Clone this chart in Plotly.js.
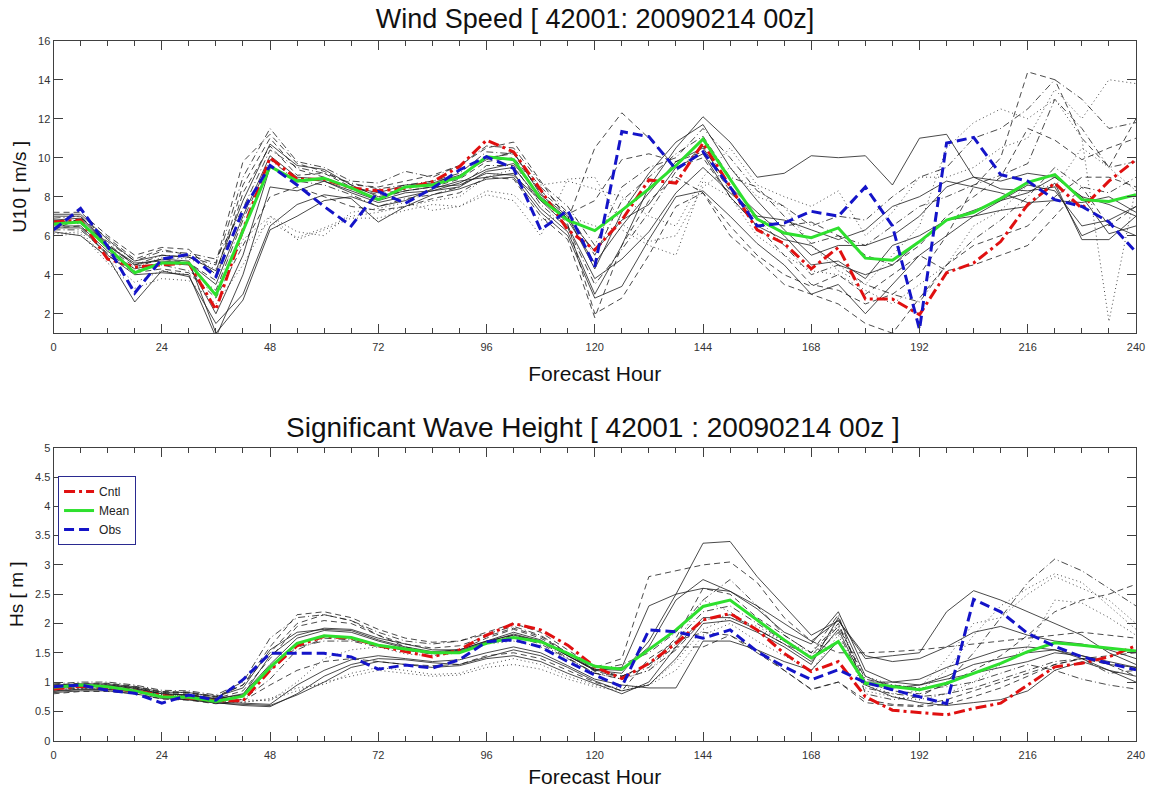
<!DOCTYPE html>
<html><head><meta charset="utf-8">
<script src="https://cdn.plot.ly/plotly-3.0.1.min.js"></script>
<style>html,body{margin:0;padding:0;background:#fff}#chart{width:1154px;height:793px}</style>
</head><body><div id="chart"></div>
<script>
const hours = [0,6,12,18,24,30,36,42,48,54,60,66,72,78,84,90,96,102,108,114,120,126,132,138,144,150,156,162,168,174,180,186,192,198,204,210,216,222,228,234,240];
const xTicks = [0,24,48,72,96,120,144,168,192,216,240];

// ---- Wind speed (U10, m/s) ----
const windCntl = [6.7,6.8,4.8,4.4,4.5,4.6,2.2,6.3,10.0,8.9,8.9,8.45,8.3,8.43,8.77,9.54,10.9,10.3,8.35,6.3,5.27,6.8,8.86,8.7,10.75,8.5,6.3,5.6,4.3,5.4,2.75,2.75,1.95,4.1,4.6,5.7,7.6,8.7,7.4,8.8,9.9];
const windMean = [6.6,6.7,5.4,4.1,4.6,4.6,2.95,6.3,9.55,8.8,8.95,8.45,7.85,8.5,8.6,9.0,10.05,9.9,7.9,6.8,6.26,7.3,8.4,9.6,10.95,8.9,6.85,6.14,5.9,6.4,4.85,4.74,5.7,6.8,7.2,7.9,8.74,9.13,7.85,7.76,8.1];
const windObs  = [6.3,7.4,5.45,3.06,4.8,5.05,3.9,7.3,9.6,8.6,7.5,6.5,8.27,7.66,8.43,9.37,10.05,9.45,6.3,7.3,4.41,11.34,11.08,9.4,10.3,8.5,6.5,6.65,7.25,7.0,8.5,6.5,1.2,10.75,11.04,9.13,8.8,7.85,7.5,6.7,5.15];
const windM01 = [7.0,7.0,5.5,4.5,4.8,4.7,1.0,2.7,6.3,7.0,7.8,8.0,7.5,7.8,8.4,8.8,9.0,9.2,7.4,6.2,3.0,5.5,8.5,10.5,12.1,10.8,9.0,9.2,10.1,10.0,10.1,8.6,11.0,11.2,9.0,8.4,8.3,8.5,6.0,6.6,6.0];
const windM02 = [6.3,6.9,5.9,4.8,5.3,5.0,4.6,9.8,11.2,9.7,9.3,8.6,8.5,8.8,9.1,9.6,10.5,10.8,8.8,6.8,10.5,12.3,11.0,9.5,10.0,8.0,6.5,5.0,3.5,3.2,2.5,3.0,4.0,6.0,8.5,10.0,14.4,14.0,11.0,9.5,12.0];
const windM03 = [6.1,6.2,4.8,3.6,4.2,4.0,3.0,5.8,7.0,5.8,6.3,6.9,6.9,7.3,7.6,7.5,8.1,7.8,6.0,8.9,9.0,6.6,5.7,6.0,8.5,9.5,8.0,7.5,5.5,4.2,3.5,5.0,6.5,10.5,11.8,12.5,12.0,13.0,11.0,1.6,8.5];
const windM04 = [6.8,6.6,5.7,4.7,5.2,5.1,4.8,7.4,10.4,9.5,9.2,8.7,8.4,8.6,8.8,9.2,10.3,10.2,8.5,7.2,5.0,7.8,9.0,10.2,11.1,9.0,8.5,7.0,5.6,6.0,5.5,6.5,7.5,8.0,8.6,9.1,9.7,13.0,11.5,9.5,9.8];
const windM05 = [6.4,6.4,5.0,4.0,4.1,4.0,0.8,4.0,8.5,8.3,8.8,8.2,7.7,8.0,8.3,8.5,9.3,9.5,7.8,6.8,4.6,6.5,8.2,9.8,10.5,8.5,7.2,6.0,4.5,4.7,3.8,5.5,6.0,6.8,7.3,7.8,8.6,8.3,6.5,6.8,7.5];
const windM06 = [7.2,7.2,6.0,5.0,5.4,5.3,4.0,8.6,11.0,9.4,9.0,8.4,7.9,8.3,8.5,8.9,9.8,10.0,8.3,7.1,7.8,9.9,10.2,9.8,10.3,8.3,6.8,6.5,6.7,6.0,5.0,4.5,5.5,7.0,8.0,9.0,11.5,10.9,9.9,10.5,11.0];
const windM07 = [6.2,6.0,4.9,2.6,4.2,3.9,1.5,3.0,6.5,7.6,8.1,7.9,6.7,7.5,8.1,8.4,8.9,9.0,7.2,6.0,2.8,3.4,5.8,8.0,8.3,7.0,5.6,4.5,3.0,3.5,2.0,3.5,5.0,6.0,7.0,7.8,8.2,9.0,8.0,6.1,6.5];
const windM08 = [6.6,6.7,5.3,4.3,4.9,4.8,4.3,5.5,6.7,5.9,6.4,7.0,7.2,7.5,7.8,8.0,9.0,9.4,8.6,8.8,8.4,8.0,7.0,6.5,9.0,10.5,8.6,8.0,7.5,8.3,6.0,7.2,9.0,9.0,9.5,10.5,11.0,13.5,12.0,14.0,13.8];
const windM09 = [6.9,7.0,5.6,4.5,5.0,4.9,4.5,9.0,11.5,9.8,9.5,8.8,8.7,9.3,9.0,9.6,10.6,10.5,8.7,7.5,5.5,8.5,9.5,10.0,11.5,10.0,8.3,7.5,6.5,7.0,6.8,8.0,9.0,9.5,11.0,11.5,12.5,14.0,13.0,11.5,11.8];
const windM10 = [6.5,6.5,5.2,4.3,4.6,4.5,2.0,5.0,9.5,8.9,8.8,8.3,7.8,8.2,8.3,8.7,9.4,9.7,8.0,6.9,5.2,6.8,7.6,9.5,10.2,8.0,6.5,5.8,5.5,4.5,4.0,4.5,5.7,6.8,7.0,7.3,7.5,8.7,5.8,5.8,7.0];
const windM11 = [6.7,6.8,5.4,4.4,4.8,4.6,3.7,8.2,10.6,9.1,9.2,8.5,8.1,8.4,8.8,9.0,10.0,10.2,8.2,6.6,2.0,2.8,5.0,7.5,8.2,6.5,5.0,4.0,3.4,4.0,3.0,4.0,5.0,4.2,4.5,5.0,5.5,7.0,8.5,6.5,7.5];
const windM12 = [6.8,6.9,5.5,4.6,4.7,4.6,3.5,7.0,10.1,9.0,8.9,8.5,8.2,8.6,8.7,9.1,9.9,10.3,8.1,7.0,4.3,7.2,9.2,10.8,11.7,9.5,7.8,6.3,5.0,5.5,5.5,6.0,7.0,8.5,9.0,8.8,9.2,9.0,8.0,7.6,7.0];
const windM13 = [6.0,6.1,4.6,3.3,3.8,3.7,2.5,4.5,7.0,6.2,6.0,7.2,7.4,7.7,7.3,7.5,8.3,8.1,6.8,7.0,6.5,6.3,5.5,5.0,8.8,8.0,6.0,5.0,4.2,4.0,3.2,2.5,3.5,4.5,6.5,7.3,8.6,8.5,10.5,9.5,8.3];
const windM14 = [6.3,6.3,5.1,4.2,4.5,4.2,3.2,6.8,9.9,8.8,8.6,8.1,7.5,7.9,8.1,8.5,9.6,9.6,7.6,6.4,3.5,5.3,7.2,9.3,10.6,8.4,6.9,5.5,4.0,4.5,3.5,3.0,2.6,4.5,5.8,6.8,8.0,9.5,8.5,8.2,9.0];
const windM15 = [7.1,7.1,5.8,4.7,5.0,4.9,4.2,7.8,10.7,9.6,9.4,8.6,8.0,8.3,8.5,8.6,9.2,9.1,7.8,6.5,3.8,4.8,6.2,8.2,9.5,8.2,7.0,6.8,6.3,5.8,6.3,7.5,8.0,8.8,8.5,8.2,7.7,7.8,7.7,8.0,7.2];
const windM16 = [6.4,6.5,5.0,4.1,4.3,4.1,2.8,5.5,8.0,8.5,8.0,7.5,7.3,7.5,7.9,8.2,9.0,8.9,7.0,5.8,1.8,5.5,7.8,9.0,8.2,6.0,4.8,3.5,3.0,2.5,1.5,1.0,2.8,4.5,5.5,6.0,6.5,8.0,9.0,9.0,8.5];

// ---- Significant wave height (Hs, m) ----
const hsCntl = [0.88,0.93,0.90,0.85,0.77,0.73,0.68,0.68,1.20,1.62,1.78,1.75,1.62,1.52,1.43,1.55,1.80,2.00,1.89,1.63,1.26,1.06,1.32,1.66,2.06,2.17,1.89,1.49,1.18,1.35,0.75,0.52,0.48,0.44,0.55,0.64,0.95,1.26,1.32,1.43,1.62];
const hsMean = [0.91,0.95,0.92,0.85,0.75,0.74,0.67,0.76,1.25,1.66,1.79,1.76,1.63,1.56,1.50,1.50,1.66,1.76,1.69,1.49,1.27,1.22,1.55,1.89,2.29,2.40,2.06,1.72,1.41,1.69,0.98,0.92,0.87,0.98,1.15,1.32,1.52,1.67,1.63,1.58,1.53];
const hsObs  = [0.92,0.95,0.86,0.81,0.64,0.78,0.69,1.04,1.49,1.49,1.49,1.43,1.22,1.29,1.24,1.38,1.69,1.72,1.60,1.35,1.12,0.92,1.89,1.86,1.75,1.89,1.52,1.26,1.04,1.21,0.99,0.87,0.75,0.63,2.41,2.20,1.83,1.61,1.43,1.32,1.21];
const hsM01 = [0.85,0.88,0.88,0.84,0.74,0.70,0.65,0.60,0.58,0.80,1.10,1.30,1.40,1.38,1.33,1.30,1.42,1.55,1.45,1.25,1.02,0.85,0.95,1.40,2.00,2.05,1.85,1.60,1.30,2.10,1.10,0.90,0.95,1.10,1.30,1.40,1.50,1.55,1.40,1.20,1.10];
const hsM02 = [0.95,0.98,0.98,0.93,0.84,0.83,0.76,0.95,1.60,2.15,2.20,2.10,1.90,1.75,1.68,1.70,1.85,2.00,1.85,1.55,1.25,1.40,2.80,2.90,3.00,3.05,2.70,2.10,1.70,1.50,1.50,1.52,1.55,1.60,1.65,1.70,1.75,1.80,1.85,1.80,1.75];
const hsM03 = [0.88,0.90,0.90,0.86,0.78,0.76,0.70,0.65,0.72,0.90,0.96,1.15,1.25,1.20,1.13,1.15,1.30,1.40,1.30,1.10,0.95,0.90,0.95,1.20,1.80,2.00,1.70,1.45,1.20,1.80,0.85,0.75,0.70,0.80,1.00,1.30,1.60,2.40,2.35,2.10,1.80];
const hsM04 = [0.97,1.00,1.00,0.95,0.86,0.85,0.78,1.00,1.75,2.10,2.15,2.05,1.85,1.70,1.65,1.70,1.82,1.95,1.80,1.50,1.20,1.30,1.50,1.85,2.40,2.75,2.30,1.80,1.50,2.15,0.80,0.70,0.75,1.00,1.50,2.10,2.70,3.10,2.90,2.60,2.30];
const hsM05 = [0.92,0.95,0.95,0.90,0.80,0.78,0.72,0.78,1.45,1.80,1.92,1.90,1.75,1.65,1.55,1.55,1.70,1.80,1.70,1.45,1.20,1.15,1.70,2.50,3.37,3.40,2.80,2.30,1.80,2.05,1.40,1.45,1.50,2.20,2.56,2.40,2.20,2.00,1.80,1.50,1.30];
const hsM06 = [0.90,0.93,0.92,0.88,0.80,0.79,0.72,0.85,1.40,1.95,2.05,2.00,1.80,1.60,1.50,1.55,1.75,1.90,1.75,1.50,1.18,1.10,1.30,1.75,2.60,2.50,2.10,1.80,1.50,2.00,1.00,0.85,0.80,0.95,1.20,1.45,1.80,2.20,2.40,2.50,2.67];
const hsM07 = [0.82,0.85,0.85,0.80,0.72,0.70,0.64,0.62,0.60,0.78,1.00,1.25,1.35,1.30,1.25,1.28,1.40,1.45,1.35,1.15,0.98,0.80,1.00,1.60,2.10,2.10,1.90,1.65,1.35,1.90,0.95,0.75,0.65,0.60,0.65,0.70,0.85,1.20,1.35,1.20,1.00];
const hsM08 = [0.93,0.96,0.96,0.90,0.82,0.82,0.74,0.70,0.68,1.00,1.40,1.55,1.60,1.48,1.45,1.50,1.65,1.70,1.60,1.40,1.15,1.05,1.20,1.65,2.40,2.20,1.90,1.70,1.50,1.95,1.10,0.95,0.90,1.40,2.00,2.10,2.50,2.80,2.60,2.40,2.00];
const hsM09 = [0.87,0.90,0.90,0.85,0.77,0.75,0.68,0.70,1.05,1.55,1.75,1.72,1.62,1.55,1.48,1.50,1.65,1.78,1.65,1.40,1.15,1.10,1.25,1.70,2.20,2.30,2.00,1.70,1.40,1.85,0.90,0.80,0.75,0.80,0.90,1.05,1.20,1.35,1.40,1.15,1.20];
const hsM10 = [0.95,0.97,0.97,0.92,0.83,0.82,0.75,0.90,1.55,1.85,1.90,1.88,1.72,1.60,1.52,1.55,1.70,1.85,1.72,1.45,1.20,1.25,2.30,2.50,2.60,2.55,2.25,1.85,1.65,2.20,1.20,1.00,0.95,1.05,1.15,1.25,1.35,1.50,1.45,1.30,1.25];
const hsM11 = [0.80,0.84,0.84,0.80,0.71,0.69,0.63,0.68,0.95,1.20,1.35,1.40,1.35,1.30,1.28,1.30,1.45,1.50,1.40,1.20,1.00,0.85,1.40,1.70,1.85,1.80,1.55,1.20,0.87,1.00,0.65,0.60,0.58,0.62,0.75,0.90,1.10,1.30,1.40,1.30,1.10];
const hsM12 = [0.91,0.94,0.94,0.89,0.80,0.78,0.71,0.80,1.30,1.75,1.88,1.85,1.70,1.58,1.50,1.53,1.68,1.82,1.70,1.45,1.22,1.20,1.60,2.40,2.75,2.55,2.30,2.00,1.70,2.05,1.45,1.35,1.40,1.60,1.85,1.95,1.80,1.70,1.65,1.55,1.40];
const hsM13 = [0.86,0.89,0.88,0.84,0.76,0.74,0.67,0.66,0.70,0.85,1.00,1.10,1.20,1.15,1.10,1.12,1.25,1.30,1.22,1.05,0.92,0.85,0.95,1.35,1.90,2.10,1.95,1.70,1.40,2.00,0.95,0.80,0.85,1.20,1.80,2.30,2.60,2.85,2.70,2.30,1.90];
const hsM14 = [0.89,0.92,0.92,0.87,0.79,0.77,0.70,0.78,1.20,1.60,1.70,1.70,1.60,1.55,1.48,1.52,1.68,1.80,1.68,1.42,1.15,1.05,1.20,1.55,2.05,2.15,1.90,1.65,1.45,1.95,1.05,0.95,0.90,0.92,1.00,1.15,1.30,1.20,1.05,0.95,0.88];
const hsM15 = [0.84,0.87,0.87,0.83,0.75,0.72,0.66,0.64,0.62,0.95,1.20,1.38,1.45,1.40,1.35,1.38,1.50,1.60,1.50,1.28,1.05,0.95,0.90,0.90,1.70,1.70,1.55,1.35,1.20,1.70,1.00,1.00,1.05,1.25,1.40,1.55,1.60,1.55,1.45,1.35,1.25];
const hsM16 = [0.93,0.96,0.95,0.91,0.82,0.81,0.74,0.95,1.50,2.00,2.15,2.05,1.80,1.65,1.58,1.62,1.78,1.92,1.78,1.50,1.22,1.10,1.30,1.60,1.60,1.80,1.50,1.20,0.88,1.00,0.70,0.62,0.60,0.70,0.85,1.00,1.15,1.30,1.40,1.45,1.50];

const windMembers = [windM01,windM02,windM03,windM04,windM05,windM06,windM07,windM08,windM09,windM10,windM11,windM12,windM13,windM14,windM15,windM16];
const hsMembers = [hsM01,hsM02,hsM03,hsM04,hsM05,hsM06,hsM07,hsM08,hsM09,hsM10,hsM11,hsM12,hsM13,hsM14,hsM15,hsM16];

// styles (kept separate from data)
const memberDash = ['solid','6px,4px','1px,3px','7px,3px,1px,3px','solid','6px,4px','solid','1px,3px','7px,3px,1px,3px','solid','6px,4px','solid','1px,3px','7px,3px,1px,3px','solid','6px,4px'];
const RED = '#e01010', GREEN = '#2ee02e', BLUE = '#1414c8';
const FONT = 'Liberation Sans, Arial, Helvetica, sans-serif';

const traces = [];
function addPanel(members, cntl, mean, obs, xa, ya, legend) {
  members.forEach((m, i) => traces.push({
    x: hours, y: m, xaxis: xa, yaxis: ya, type: 'scatter', mode: 'lines',
    line: {color: '#1c1c1c', width: 0.8, dash: memberDash[i % memberDash.length]},
    showlegend: false, hoverinfo: 'skip'
  }));
  traces.push({x: hours, y: cntl, xaxis: xa, yaxis: ya, type: 'scatter', mode: 'lines', name: 'Cntl',
    line: {color: RED, width: 3, dash: '11px,4px,3px,4px'}, showlegend: legend});
  traces.push({x: hours, y: mean, xaxis: xa, yaxis: ya, type: 'scatter', mode: 'lines', name: 'Mean',
    line: {color: GREEN, width: 3}, showlegend: legend});
  traces.push({x: hours, y: obs, xaxis: xa, yaxis: ya, type: 'scatter', mode: 'lines', name: 'Obs',
    line: {color: BLUE, width: 3, dash: '10px,5px'}, showlegend: legend});
}
addPanel(windMembers, windCntl, windMean, windObs, 'x', 'y', false);
addPanel(hsMembers, hsCntl, hsMean, hsObs, 'x2', 'y2', true);

const AX = '#404040';
function xAxis(anchor, standoff) {
  return {
    anchor: anchor, domain: [0.0464, 0.9844], range: [0, 240],
    tickmode: 'array', tickvals: xTicks, ticktext: xTicks.map(String),
    ticks: 'inside', ticklen: 9, tickcolor: AX, tickwidth: 1, ticklabelstandoff: 4,
    minor: {tickmode: 'linear', tick0: 0, dtick: 6, ticks: 'inside', ticklen: 5, tickcolor: AX, showgrid: false},
    showline: true, linecolor: AX, linewidth: 1, mirror: 'ticks',
    showgrid: false, zeroline: false,
    tickfont: {family: FONT, size: 11, color: '#333'},
    title: {text: 'Forecast Hour', font: {family: FONT, size: 21, color: '#111'}, standoff: standoff}
  };
}
function yAxis(anchor, domain, range, dtick, title) {
  return {
    anchor: anchor, domain: domain, range: range, tick0: 0, dtick: dtick,
    ticks: 'inside', ticklen: 9, tickcolor: AX, tickwidth: 1,
    showline: true, linecolor: AX, linewidth: 1, mirror: 'ticks',
    showgrid: false, zeroline: false,
    tickfont: {family: FONT, size: 11, color: '#333'},
    title: {text: title, font: {family: FONT, size: 19, color: '#111'}, standoff: 6}
  };
}

const layout = {
  width: 1154, height: 793,
  margin: {l: 0, r: 0, t: 0, b: 0},
  paper_bgcolor: '#fff', plot_bgcolor: '#fff',
  font: {family: FONT},
  title: {text: 'Wind Speed [ 42001: 20090214 00z]', x: 0.5156, xanchor: 'center', y: 0.977, yanchor: 'middle',
          font: {family: FONT, size: 27, color: '#111'}},
  xaxis: xAxis('y', 13),
  yaxis: yAxis('x', [0.5798, 0.9487], [1, 16], 2, 'U10 [ m/s ]'),
  xaxis2: xAxis('y2', 9),
  yaxis2: yAxis('x2', [0.0660, 0.4354], [0, 5], 0.5, 'Hs [ m ]'),
  annotations: [{
    text: 'Significant Wave Height [ 42001 : 20090214 00z ]', xref: 'paper', yref: 'paper',
    x: 0.5139, y: 0.4603, xanchor: 'center', yanchor: 'middle', showarrow: false,
    font: {family: FONT, size: 28, color: '#111'}
  }],
  showlegend: true,
  legend: {x: 0.0503, y: 0.3997, xanchor: 'left', yanchor: 'top', bordercolor: '#2a2a90', borderwidth: 1,
           bgcolor: '#fff', font: {family: FONT, size: 12, color: '#222'}, itemwidth: 30, tracegroupgap: 0}
};

Plotly.newPlot('chart', traces, layout, {staticPlot: true, displayModeBar: false});
</script>
</body></html>
